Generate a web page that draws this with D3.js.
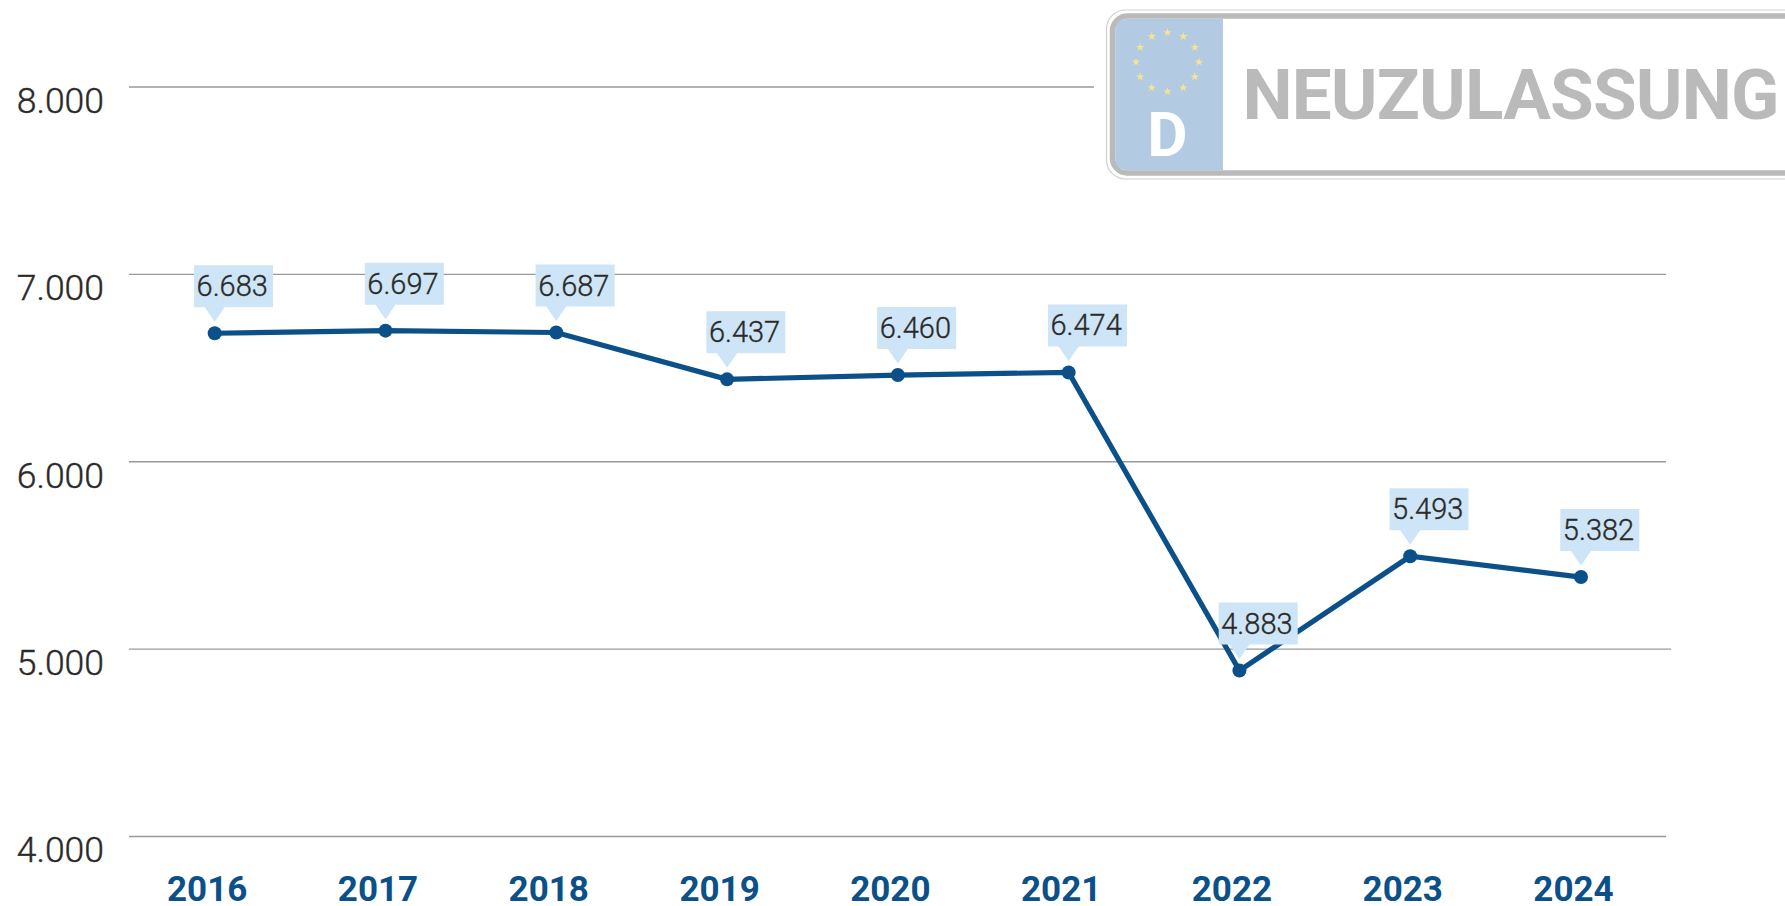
<!DOCTYPE html>
<html>
<head>
<meta charset="utf-8">
<script src="https://d3js.org/d3.v7.min.js"></script>
<style>
  html, body { margin: 0; padding: 0; background: #fff; overflow: hidden; }
  svg { display: block; font-family: Roboto, sans-serif; }
</style>
</head>
<body>
<div id="chart"></div>
<script>
const years = ["2016", "2017", "2018", "2019", "2020", "2021", "2022", "2023", "2024"]
const values = [6683, 6697, 6687, 6437, 6460, 6474, 4883, 5493, 5382]
const yTicks = [4000, 5000, 6000, 7000, 8000]

const width = 1785,
  height = 906
const blue = "#0b5089",
  plateGrey = "#bababa"

const de = d3.formatLocale({ decimal: ",", thousands: ".", grouping: [3], currency: ["", " €"] })
const fmt = de.format(",d")

const x = d3.scalePoint().domain(years).range([214.7, 1581])
const y = d3.scaleLinear().domain([4000, 8000]).range([836, 86.5])

const svg = d3.select("#chart").append("svg").attr("width", width).attr("height", height)

// Gridlines and value labels
const yAxis = svg
  .append("g")
  .attr("transform", "translate(129,0)")
  .call(d3.axisLeft(y).tickValues(yTicks).tickFormat(fmt).tickSize(-1537).tickPadding(0))
yAxis.select(".domain").remove()
yAxis
  .selectAll(".tick line")
  .attr("stroke", "#999")
  .attr("stroke-width", 1.4)
  .attr("x2", (d) => (d === 8000 ? 965 : d === 5000 ? 1542 : 1537))
yAxis
  .selectAll(".tick text")
  .attr("x", -25)
  .attr("dy", 25.8)
  .attr("fill", "#2b2a29")
  .attr("stroke", "#2b2a29")
  .attr("stroke-width", 0.4)
  .style("font-family", "Roboto, sans-serif")
  .style("font-size", "35.5px")
  .style("font-weight", 300)

// Year labels
const xAxis = svg
  .append("g")
  .attr("transform", "translate(-8,0)")
  .call(d3.axisBottom(x).tickSize(0).tickPadding(0))
xAxis.select(".domain").remove()
xAxis
  .selectAll(".tick text")
  .attr("y", 900.5)
  .attr("dy", 0)
  .attr("fill", blue)
  .style("font-family", "Roboto, sans-serif")
  .style("font-size", "35px")
  .style("font-weight", 700)

// Series line and dots
const line = d3
  .line()
  .x((d, i) => x(years[i]))
  .y((d) => y(d))

svg.append("path").datum(values).attr("d", line).attr("fill", "none").attr("stroke", blue).attr("stroke-width", 5.2)

svg
  .selectAll(".dot")
  .data(values)
  .enter()
  .append("circle")
  .attr("class", "dot")
  .attr("cx", (d, i) => x(years[i]))
  .attr("cy", (d) => y(d))
  .attr("r", 7)
  .attr("fill", blue)

// Callout labels
const callout = svg
  .selectAll(".callout")
  .data(values)
  .enter()
  .append("g")
  .attr("class", "callout")
  .attr("transform", (d, i) => `translate(${x(years[i])},${y(d)})`)

callout
  .append("path")
  .attr("d", "M-20.7,-68 H58.3 V-26 H10 L0,-11.5 L-10,-26 H-20.7 Z")
  .attr("fill", "#cde5f6")

callout
  .append("text")
  .attr("x", 17.5)
  .attr("y", -37)
  .attr("text-anchor", "middle")
  .attr("fill", "#2b2a29")
  .attr("stroke", "#2b2a29")
  .attr("stroke-width", 0.35)
  .style("font-size", "29px")
  .style("font-weight", 300)
  .text((d) => fmt(d))

// Licence plate badge, runs off the right edge
const plate = svg.append("g")
plate
  .append("rect")
  .attr("x", 1106.5)
  .attr("y", 10)
  .attr("width", 760)
  .attr("height", 169)
  .attr("rx", 19)
  .attr("fill", "#fff")
  .attr("stroke", "#cfcfcf")
  .attr("stroke-width", 1.2)
plate
  .append("rect")
  .attr("x", 1112.5)
  .attr("y", 16)
  .attr("width", 750)
  .attr("height", 157)
  .attr("rx", 15)
  .attr("fill", "#fff")
  .attr("stroke", plateGrey)
  .attr("stroke-width", 5.5)
plate
  .append("path")
  .attr("d", "M1223,18.7 H1129 Q1115.2,18.7 1115.2,32 V157 Q1115.2,170.2 1129,170.2 H1223 Z")
  .attr("fill", "#b3cbe2")

plate
  .selectAll(".star")
  .data(d3.range(12))
  .enter()
  .append("path")
  .attr("class", "star")
  .attr("d", d3.symbol(d3.symbolStar, 22))
  .attr("fill", "#f5e58f")
  .attr("transform", (d) => {
    const a = (d * Math.PI) / 6
    return `translate(${1167.5 + 31.5 * Math.sin(a)},${62 - 29.5 * Math.cos(a)})`
  })

plate
  .append("text")
  .attr("x", 1167.5)
  .attr("y", 156)
  .attr("text-anchor", "middle")
  .attr("fill", "#fff")
  .style("font-size", "62px")
  .style("font-weight", 700)
  .text("D")

plate
  .append("text")
  .attr("x", 1242.5)
  .attr("y", 118.5)
  .attr("fill", plateGrey)
  .attr("textLength", 537)
  .attr("lengthAdjust", "spacing")
  .style("font-size", "71px")
  .style("font-weight", 700)
  .text("NEUZULASSUNG")
</script>
</body>
</html>
